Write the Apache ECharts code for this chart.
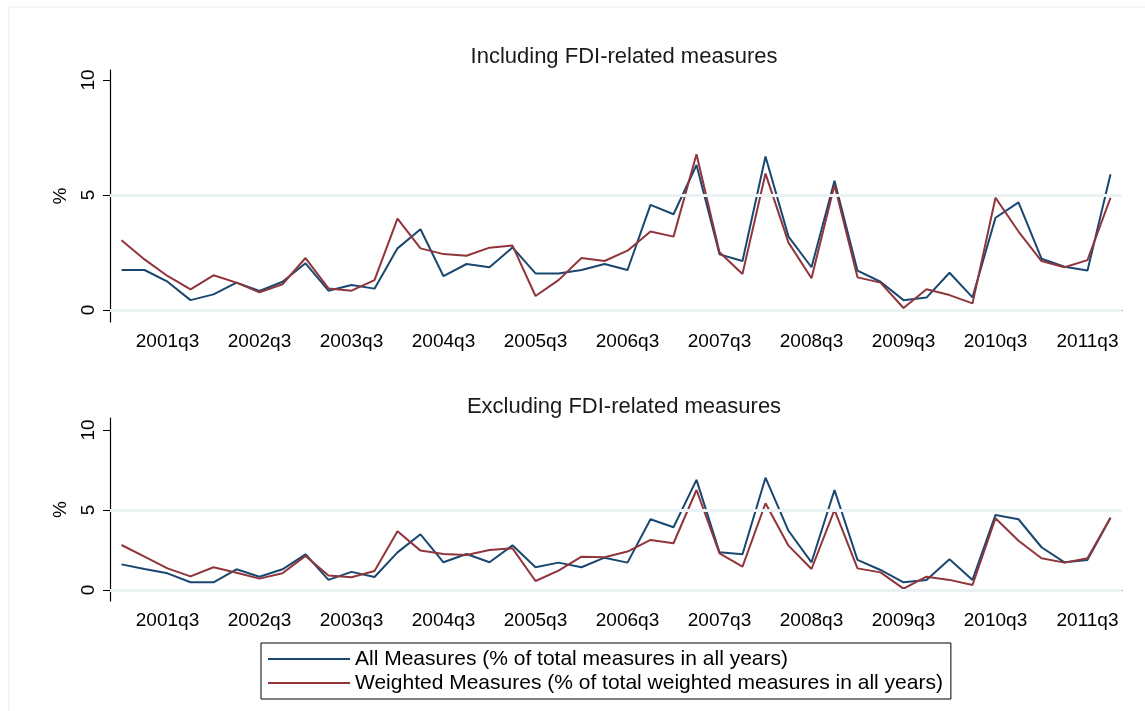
<!DOCTYPE html>
<html>
<head>
<meta charset="utf-8">
<script src="https://cdn.jsdelivr.net/npm/echarts@6/dist/echarts.min.js"></script>
<style>
  html, body { margin: 0; padding: 0; background: #fff; }
  #main { width: 1145px; height: 711px; }
</style>
</head>
<body>
<div id="main"></div>
<script>
var quarters = ['2001q1','2001q2','2001q3','2001q4','2002q1','2002q2','2002q3','2002q4',
    '2003q1','2003q2','2003q3','2003q4','2004q1','2004q2','2004q3','2004q4',
    '2005q1','2005q2','2005q3','2005q4','2006q1','2006q2','2006q3','2006q4',
    '2007q1','2007q2','2007q3','2007q4','2008q1','2008q2','2008q3','2008q4',
    '2009q1','2009q2','2009q3','2009q4','2010q1','2010q2','2010q3','2010q4',
    '2011q1','2011q2','2011q3','2011q4'];

// Including FDI-related measures
var allIncl = [1.74, 1.74, 1.23, 0.43, 0.68, 1.19, 0.83, 1.23, 2.03, 0.84, 1.09, 0.93, 2.68, 3.51, 1.47,
    2.0, 1.86, 2.72, 1.59, 1.59, 1.74, 2.0, 1.74, 4.57, 4.16, 6.3, 2.42, 2.13, 6.67, 3.19,
    1.86, 5.62, 1.71, 1.23, 0.43, 0.54, 1.62, 0.55, 4.01, 4.68, 2.23, 1.88, 1.72, 5.9];
var weightedIncl = [3.03, 2.2, 1.48, 0.9, 1.51, 1.19, 0.77, 1.12, 2.26, 0.94, 0.84, 1.3, 3.97, 2.68, 2.43,
    2.36, 2.71, 2.8, 0.61, 1.3, 2.26, 2.13, 2.58, 3.41, 3.19, 6.77, 2.51, 1.57, 5.93, 2.93,
    1.38, 5.43, 1.42, 1.19, 0.09, 0.9, 0.65, 0.29, 4.88, 3.41, 2.13, 1.86, 2.17, 4.88];

// Excluding FDI-related measures
var allExcl = [1.6, 1.31, 1.04, 0.48, 0.48, 1.29, 0.83, 1.29, 2.23, 0.63, 1.13, 0.81, 2.35, 3.48, 1.73,
    2.25, 1.73, 2.79, 1.42, 1.71, 1.42, 2.02, 1.71, 4.42, 3.92, 6.88, 2.35, 2.23, 7.02, 3.7,
    1.73, 6.25, 1.88, 1.25, 0.48, 0.63, 1.92, 0.63, 4.69, 4.42, 2.67, 1.73, 1.88, 4.52];
var weightedExcl = [2.81, 2.08, 1.35, 0.85, 1.42, 1.08, 0.71, 1.04, 2.13, 0.9, 0.79, 1.19, 3.67, 2.46, 2.25,
    2.19, 2.5, 2.6, 0.56, 1.21, 2.08, 2.04, 2.4, 3.13, 2.92, 6.25, 2.29, 1.46, 5.42, 2.77,
    1.31, 5.0, 1.35, 1.1, 0.08, 0.83, 0.63, 0.31, 4.48, 3.08, 1.98, 1.71, 1.98, 4.52];

var yTicks = [0, 5, 10];
var gridValues = [0, 5];
var seriesNames = ['All Measures (% of total measures in all years)',
    'Weighted Measures (% of total weighted measures in all years)'];

var blue = '#1a476f';
var red = '#90353b';
var font = 'Liberation Sans, Arial, sans-serif';

function xAxisFor(idx) {
    return {
        type: 'category',
        gridIndex: idx,
        data: quarters,
        boundaryGap: true,
        axisLine: { lineStyle: { color: '#000', width: 1.2 } },
        axisTick: {
            alignWithLabel: true,
            length: 7,
            interval: function (i, v) { return /q3$/.test(v); },
            lineStyle: { color: '#000' }
        },
        axisLabel: {
            interval: function (i, v) { return /q3$/.test(v); },
            color: '#000', fontFamily: font, fontSize: 19, margin: 10
        },
        splitLine: { show: false }
    };
}

function yAxisFor(idx, min, max) {
    return {
        type: 'value',
        gridIndex: idx,
        min: min,
        max: max,
        name: '%',
        nameLocation: 'middle',
        nameRotate: 90,
        nameGap: 40,
        nameTextStyle: { color: '#000', fontFamily: font, fontSize: 19 },
        axisLine: { show: true, lineStyle: { color: '#000', width: 1.2 } },
        axisTick: { show: true, customValues: yTicks, length: 7, lineStyle: { color: '#000' } },
        axisLabel: { customValues: yTicks, rotate: 90, color: '#000', fontFamily: font, fontSize: 19, margin: 12 },
        splitLine: { show: false }
    };
}

function gridSeries(idx) {
    return {
        type: 'line',
        xAxisIndex: idx,
        yAxisIndex: idx,
        data: [],
        silent: true,
        z: 1,
        markLine: {
            silent: true,
            symbol: 'none',
            label: { show: false },
            lineStyle: { color: '#eaf2f3', width: 3, type: 'solid' },
            data: gridValues.map(function (v) { return { yAxis: v }; })
        }
    };
}

function lineSeries(idx, name, data, color) {
    return {
        name: name,
        type: 'line',
        xAxisIndex: idx,
        yAxisIndex: idx,
        data: data,
        symbol: 'none',
        z: 3,
        lineStyle: { color: color, width: 2 },
        itemStyle: { color: color }
    };
}

var myChart = echarts.init(document.getElementById('main'));
var option = {
    backgroundColor: '#fff',
    animation: false,
    title: [
        {
            text: 'Including FDI-related measures',
            left: 619, top: 41, textAlign: 'center',
            textStyle: { fontFamily: font, fontSize: 22, fontWeight: 'normal', color: '#1a1a1a' }
        },
        {
            text: 'Excluding FDI-related measures',
            left: 619, top: 391, textAlign: 'center',
            textStyle: { fontFamily: font, fontSize: 22, fontWeight: 'normal', color: '#1a1a1a' }
        }
    ],
    legend: {
        data: seriesNames,
        orient: 'vertical',
        left: 261,
        top: 643,
        icon: 'rect',
        itemWidth: 82,
        itemHeight: 2,
        itemGap: 2,
        padding: [5, 8, 5, 7],
        borderColor: '#000',
        borderWidth: 1,
        textStyle: { fontFamily: font, fontSize: 21, color: '#000', lineHeight: 22 }
    },
    graphic: [
        {
            type: 'rect',
            shape: { x: 9, y: 7, width: 1150, height: 720 },
            style: { fill: 'none', stroke: '#eef3f3', lineWidth: 1.5 },
            silent: true
        }
    ],
    grid: [
        { left: 110, right: 23, top: 70, height: 252 },
        { left: 110, right: 23, top: 418, height: 183 }
    ],
    xAxis: [xAxisFor(0), xAxisFor(1)],
    yAxis: [yAxisFor(0, -0.52, 10.43), yAxisFor(1, -0.69, 10.75)],
    series: [
        gridSeries(0),
        gridSeries(1),
        lineSeries(0, seriesNames[0], allIncl, blue),
        lineSeries(0, seriesNames[1], weightedIncl, red),
        lineSeries(1, seriesNames[0], allExcl, blue),
        lineSeries(1, seriesNames[1], weightedExcl, red)
    ]
};
myChart.setOption(option);
</script>
</body>
</html>
